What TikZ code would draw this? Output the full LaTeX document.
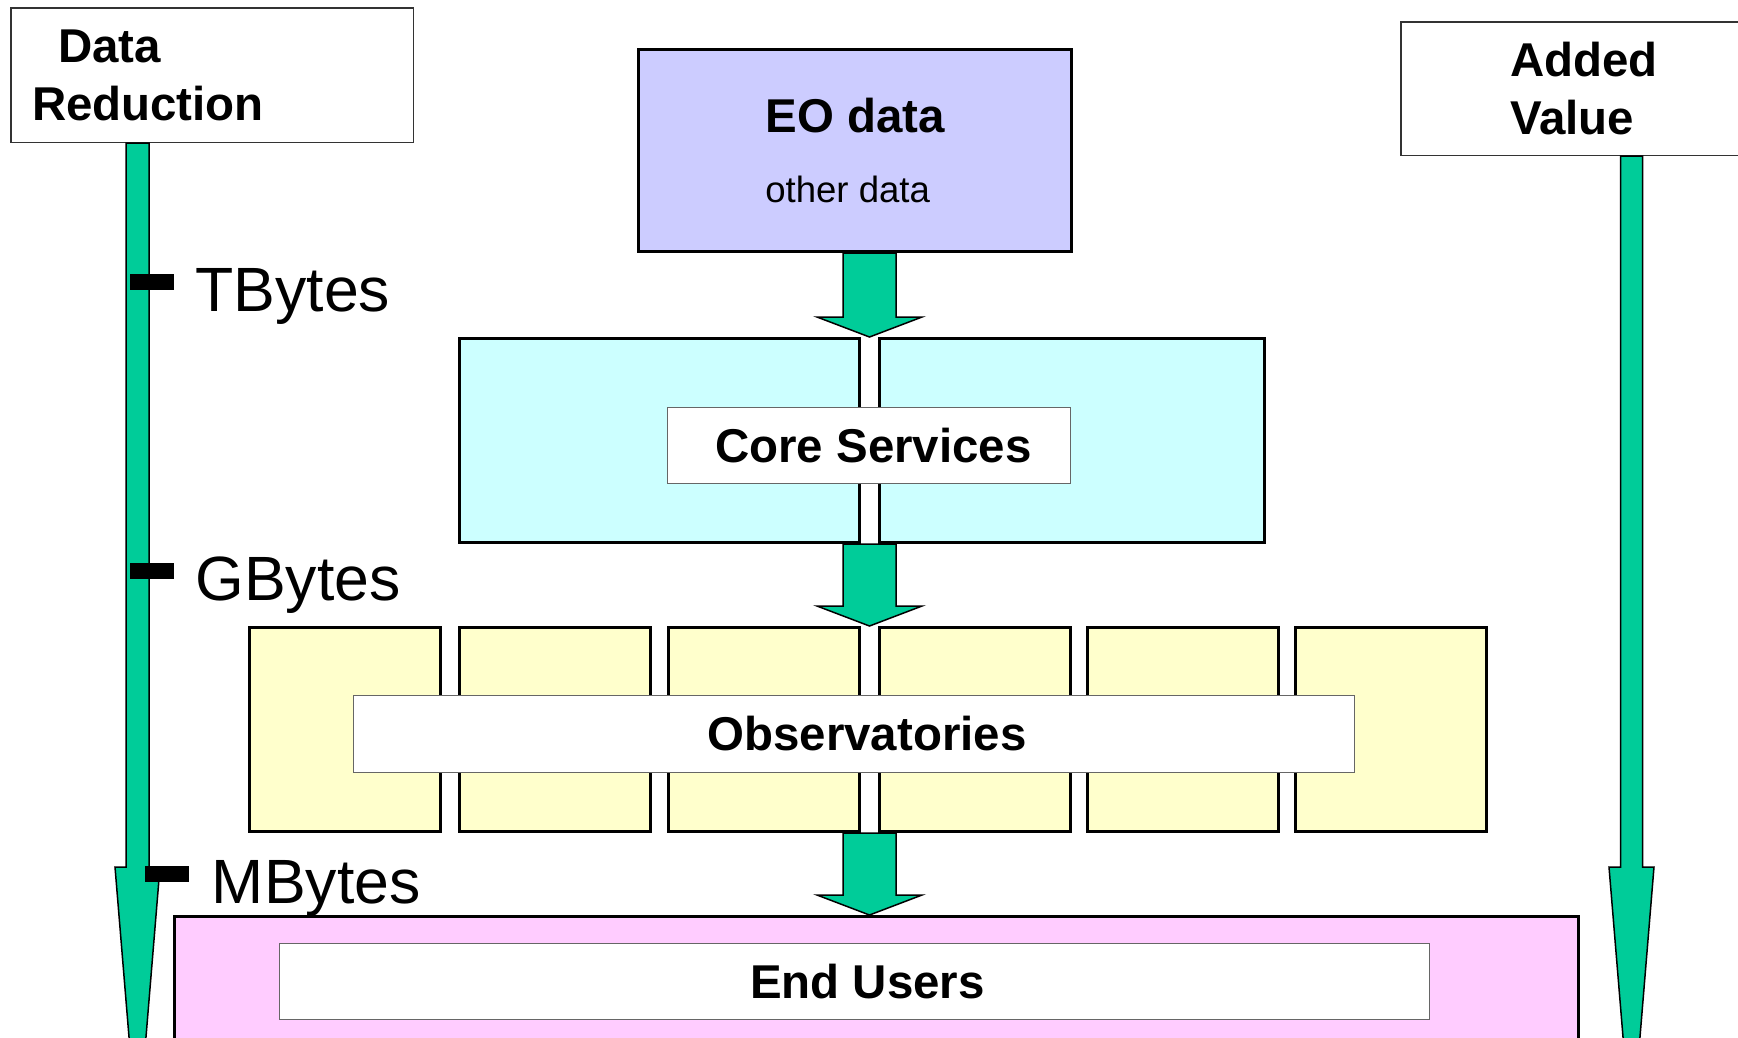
\documentclass[tikz,border=0pt]{standalone}
\usepackage{fontspec}
\setmainfont{Liberation Sans}
\usetikzlibrary{positioning,calc}
\definecolor{eofill}{HTML}{CCCCFF}
\definecolor{corefill}{HTML}{CCFFFF}
\definecolor{obsfill}{HTML}{FFFFCC}
\definecolor{userfill}{HTML}{FFCCFF}
\definecolor{flow}{HTML}{00CC99}

\begin{document}
\begin{tikzpicture}[
    x=0.1mm, y=-0.1mm,
    every node/.style={inner sep=0pt},
    head/.style={font=\fontsize{13.5}{16}\selectfont\bfseries},
    layer/.style={rectangle,draw=black,line width=0.3mm},
    obsbox/.style={layer,fill=obsfill,minimum width=19.1mm,minimum height=20.4mm},
    tag/.style={rectangle,draw=black!60,line width=0.12mm,fill=white,minimum height=7.6mm,head},
    sidebox/.style={rectangle,draw=black!80,line width=0.15mm,fill=white,align=left,font=\fontsize{13.5}{16.5}\selectfont\bfseries},
    tick/.style={rectangle,fill=black,minimum width=4.4mm,minimum height=1.6mm},
    bytes/.style={font=\fontsize{17.8}{20}\selectfont,yshift=-1.45mm},
    fatarrow/.style n args={3}{fill=flow,draw=black,line width=0.15mm,
      to path={-- ($(\tikztostart)+(-#1,0)$) -- ($(\tikztotarget)+(-#1,-#3)$)
        -- ($(\tikztotarget)+(-#2,-#3)$) -- (\tikztotarget)
        -- ($(\tikztotarget)+(#2,-#3)$) -- ($(\tikztotarget)+(#1,-#3)$)
        -- ($(\tikztostart)+(#1,0)$) -- cycle}}
  ]
    \useasboundingbox (0,0) rectangle (1738,1037);
    \clip (0,0) rectangle (1738,1037);
    \coordinate (axis) at (869.5,0);
    \coordinate (ltip) at (137.5,1140);
    \coordinate (rtip) at (1631.5,1140);

    % side scales
    \node[sidebox,minimum width=40.25mm,minimum height=13.45mm,text width=36mm] (reduce) at (212,75) {\hspace*{2.6mm}Data\\Reduction};
    \node[sidebox,minimum width=36.8mm,minimum height=13.35mm,text width=15mm] (value) at (1585,88.5) {Added\\Value};

    % layers
    \node[layer,fill=eofill,minimum width=43.3mm,minimum height=20.2mm,align=left,
      font=\fontsize{13.5}{19.9}\selectfont\bfseries] (eo) at (855,150.5)
      {EO data\\{\fontsize{10.4}{19.9}\selectfont\mdseries other data}};
    \node[layer,fill=corefill,minimum width=40mm,minimum height=20.4mm] (coreL) at (659.5,440.5) {};
    \node[layer,fill=corefill,minimum width=38.5mm,minimum height=20.4mm,right=1.7mm of coreL] (coreR) {};
    \node[obsbox] (obs1) at (345,729.5) {};
    \node[obsbox,right=1.6mm of obs1] (obs2) {};
    \node[obsbox,right=1.5mm of obs2] (obs3) {};
    \node[obsbox,right=1.7mm of obs3] (obs4) {};
    \node[obsbox,right=1.4mm of obs4] (obs5) {};
    \node[obsbox,right=1.4mm of obs5] (obs6) {};
    \node[layer,fill=userfill,minimum width=140.4mm,minimum height=20mm] (users) at (876.5,1016.5) {};

    % labels
    \node[tag,minimum width=40.3mm] (coretag) at (869,445.5) {\hspace*{0.9mm}Core Services};
    \node[tag,minimum width=100.1mm,minimum height=7.7mm] (obstag) at (854,734) {\hspace*{2.6mm}Observatories};
    \node[tag,minimum width=115mm] (usertag) at (854.5,981.5) {\hspace*{2.6mm}End Users};

    % flows
    \draw[fatarrow={26.5}{52.5}{20}] (eo.south -| axis) to (coreL.north -| axis);
    \draw[fatarrow={26.5}{52.5}{20}] (coreL.south -| axis) to (obs3.north -| axis);
    \draw[fatarrow={26.5}{52.5}{20}] (obs3.south -| axis) to (users.north -| axis);
    \draw[fatarrow={11.5}{22.5}{273}] (reduce.south -| ltip) to (ltip);
    \draw[fatarrow={11}{22.5}{273}] (value.south -| rtip) to (rtip);

    % volume marks
    \node[tick] (tb) at (152,282) {};
    \node[bytes,right=2mm of tb] (tbytes) {TBytes};
    \node[tick] (gb) at (152,570.5) {};
    \node[bytes,right=2mm of gb] (gbytes) {GBytes};
    \node[tick] (mb) at (166.5,874) {};
    \node[bytes,right=2.2mm of mb] (mbytes) {MBytes};
  \end{tikzpicture}
\end{document}
